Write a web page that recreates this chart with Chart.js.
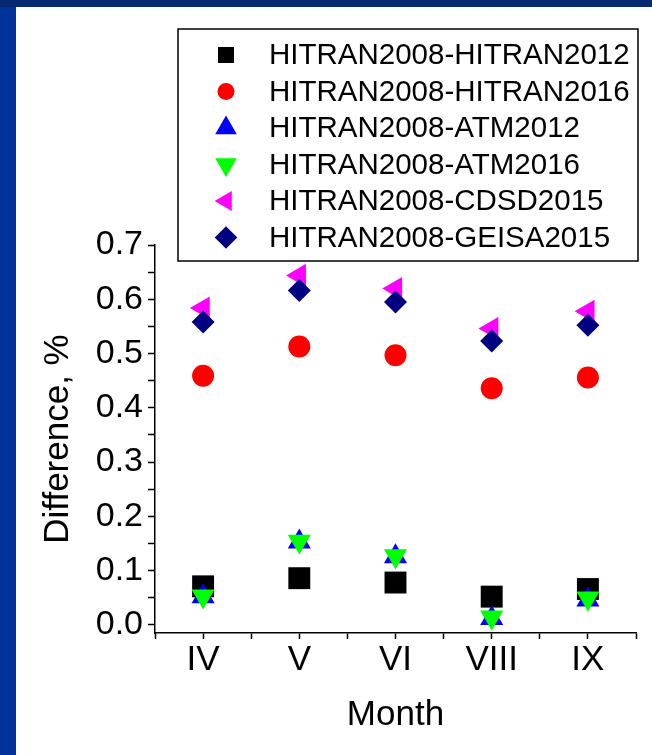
<!DOCTYPE html>
<html>
<head>
<meta charset="utf-8">
<script src="https://cdn.jsdelivr.net/npm/chart.js@4/dist/chart.umd.min.js"></script>
<style>
  body { margin: 0; background: #003399; }
  #topband { position: absolute; left: 0; top: 0; width: 652px; height: 7px; background: #07296f; }
  #sheet { position: absolute; left: 16px; top: 7px; width: 636px; height: 748px; background: #ffffff; }
  #chart { position: absolute; left: 0; top: 0; }
</style>
</head>
<body>
<div id="topband"></div>
<div id="sheet"></div>
<canvas id="chart" width="652" height="755"></canvas>
<script>
//months on the x axis
const months = ['IV', 'V', 'VI', 'VIII', 'IX'];

//series (difference, %)
const hitran2012 = [0.071, 0.086, 0.078, 0.052, 0.066];
const hitran2016 = [0.459, 0.513, 0.497, 0.436, 0.456];
const atm2012 = [0.052, 0.153, 0.126, 0.012, 0.046];
const atm2016 = [0.053, 0.154, 0.127, 0.014, 0.049];
const cdsd2015 = [0.584, 0.644, 0.620, 0.546, 0.578];
const geisa2015 = [0.558, 0.616, 0.595, 0.523, 0.552];

const seriesLabels = ['HITRAN2008-HITRAN2012', 'HITRAN2008-HITRAN2016', 'HITRAN2008-ATM2012',
    'HITRAN2008-ATM2016', 'HITRAN2008-CDSD2015', 'HITRAN2008-GEISA2015'];

//y range: the x axis line sits a little below 0.0
const yMin = -0.015;
const yMax = 0.7;

const FONT = "'Liberation Sans', Arial, sans-serif";

//marker looks, plot size and legend size
const styles = [
    {color: '#000000', pointStyle: 'rect', rotation: 0, radius: 15.5, legendRadius: 11.3},
    {color: '#ff0000', pointStyle: 'circle', rotation: 0, radius: 11, legendRadius: 8.5},
    {color: '#0000ff', pointStyle: 'triangle', rotation: 0, radius: 13.3, legendRadius: 12.5},
    {color: '#00ff00', pointStyle: 'triangle', rotation: 180, radius: 13.3, legendRadius: 12.5},
    {color: '#ff00ff', pointStyle: 'triangle', rotation: 270, radius: 13.3, legendRadius: 11.5},
    {color: '#000080', pointStyle: 'rectRot', rotation: 0, radius: 11.5, legendRadius: 11.3}
];

const allSeries = [hitran2012, hitran2016, atm2012, atm2016, cdsd2015, geisa2015];

//x positions are 1..n so that ticks can sit both on the months and between them
function toPoints(values) {
    return values.map((v, i) => ({x: i + 1, y: v}));
}

const datasets = allSeries.map((values, i) => ({
    label: seriesLabels[i],
    data: toPoints(values),
    backgroundColor: styles[i].color,
    borderColor: styles[i].color,
    borderWidth: 0,
    pointStyle: styles[i].pointStyle,
    pointRotation: styles[i].rotation,
    pointRadius: styles[i].radius,
    pointHoverRadius: styles[i].radius,
    order: allSeries.length - i   // later series on top
}));

/**
 * boxed legend drawn over the top of the plot
 */
const boxLegend = {
    id: 'boxLegend',
    afterDraw(chart) {
        const c = chart.ctx;
        const box = {x: 178, y: 29, w: 460, h: 232};
        c.save();
        c.fillStyle = '#ffffff';
        c.fillRect(box.x, box.y, box.w, box.h);
        c.strokeStyle = '#000000';
        c.lineWidth = 1.5;
        c.strokeRect(box.x, box.y, box.w, box.h);
        c.font = '29.5px ' + FONT;
        c.textBaseline = 'middle';
        c.textAlign = 'left';
        chart.data.datasets.forEach((ds, i) => {
            const y = 55 + i * 36.5;
            c.fillStyle = styles[i].color;
            c.strokeStyle = styles[i].color;
            Chart.helpers.drawPoint(c, {
                pointStyle: styles[i].pointStyle,
                rotation: styles[i].rotation,
                radius: styles[i].legendRadius,
                borderWidth: 0
            }, 226, y);
            c.fillStyle = '#000000';
            c.fillText(ds.label, 269, y + 1);
        });
        c.restore();
    }
};

new Chart(document.getElementById('chart'), {
    type: 'scatter',
    data: {datasets: datasets},
    options: {
        responsive: false,
        animation: false,
        layout: {padding: {left: 0, right: 16, top: 245, bottom: 0}},
        plugins: {
            legend: {display: false},
            tooltip: {enabled: false}
        },
        scales: {
            x: {
                type: 'linear',
                min: 0.5,
                max: months.length + 0.5,
                afterFit: (scale) => {
                    scale.height = 122;
                    scale.paddingLeft = 0;
                    scale.paddingRight = 0;
                },
                border: {color: '#000000', width: 1.5},
                grid: {drawOnChartArea: false, tickLength: 6, tickColor: '#000000', tickWidth: 1.5},
                ticks: {
                    stepSize: 0.5,
                    autoSkip: false,
                    maxRotation: 0,
                    padding: 0,
                    color: '#000000',
                    font: {family: FONT, size: 35},
                    callback: (v) => Number.isInteger(v) ? months[v - 1] : ''
                },
                title: {
                    display: true,
                    text: 'Month',
                    color: '#000000',
                    font: {family: FONT, size: 35},
                    padding: {top: 0, bottom: 19}
                }
            },
            y: {
                min: yMin,
                max: yMax,
                afterFit: (scale) => { scale.width = 155; },
                border: {color: '#000000', width: 1.5},
                grid: {drawOnChartArea: false, tickLength: 7, tickColor: '#000000', tickWidth: 1.5},
                ticks: {
                    stepSize: 0.05,
                    includeBounds: false,
                    autoSkip: false,
                    padding: 5,
                    color: '#000000',
                    font: {family: FONT, size: 34},
                    callback: (v) => Math.abs(v * 10 - Math.round(v * 10)) < 1e-6 ? v.toFixed(1) : ''
                },
                title: {
                    display: true,
                    text: 'Difference, %',
                    color: '#000000',
                    font: {family: FONT, size: 35},
                    padding: {top: 37, bottom: 0}
                }
            }
        }
    },
    plugins: [boxLegend]
});
</script>
</body>
</html>
